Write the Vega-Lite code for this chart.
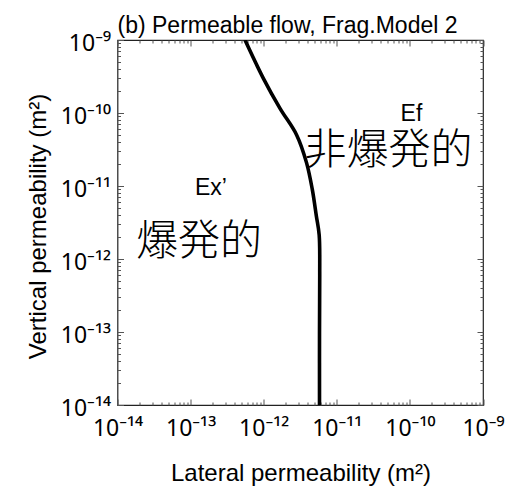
{
  "$schema": "https://vega.github.io/schema/vega-lite/v6.json",
  "autosize": "none",
  "padding": {"left": 117.5, "top": 40, "right": 34, "bottom": 81},
  "width": 365.5,
  "height": 365,
  "config": {
    "font": "Liberation Sans",
    "view": {"stroke": "#222", "strokeWidth": 1.2},
    "axis": {"grid": false, "domain": false}
  },
  "title": {
    "text": "(b) Permeable flow, Frag.Model 2",
    "anchor": "start",
    "frame": "group",
    "fontSize": 23,
    "fontWeight": "normal",
    "color": "#000",
    "baseline": "alphabetic",
    "offset": 8,
    "dy": 32
  },
  "datasets": {
    "curve": [
      {"i": 1, "lat": 5.8e-12, "vert": 1e-14},
      {"i": 2, "lat": 5.8e-12, "vert": 1e-13},
      {"i": 3, "lat": 5.84e-12, "vert": 6.03e-13},
      {"i": 4, "lat": 5.74e-12, "vert": 2.14e-12},
      {"i": 5, "lat": 5.25e-12, "vert": 3.89e-12},
      {"i": 6, "lat": 4.62e-12, "vert": 8.97e-12},
      {"i": 7, "lat": 3.85e-12, "vert": 2.09e-11},
      {"i": 8, "lat": 2.82e-12, "vert": 5.01e-11},
      {"i": 9, "lat": 1.67e-12, "vert": 1.159e-10},
      {"i": 10, "lat": 9.89e-13, "vert": 2.985e-10},
      {"i": 11, "lat": 5.55e-13, "vert": 1e-9}
    ],
    "labels": [
      {"text": "Ex’", "lat": 1.9e-13, "vert": 7.5e-12, "kind": "latin"},
      {"text": "Ef", "lat": 1.05e-10, "vert": 7.8e-11, "kind": "latin"},
      {"text": "爆発的", "lat": 1.3e-13, "vert": 1.71e-12, "kind": "cjk"},
      {"text": "非爆発的", "lat": 5.09e-11, "vert": 3.01e-11, "kind": "cjk"}
    ]
  },
  "layer": [
    {
      "data": {"name": "curve"},
      "mark": {"type": "line", "color": "#000", "strokeWidth": 3.6, "clip": true, "interpolate": "catmull-rom"},
      "encoding": {
        "order": {"field": "i", "type": "quantitative"},
        "x": {
          "field": "lat", "type": "quantitative",
          "scale": {"type": "log", "domain": [1e-14, 1e-9], "nice": false},
          "axis": {
            "orient": "bottom",
            "title": "Lateral permeability (m²)",
            "titleFontSize": 24, "titleFontWeight": "normal", "titleColor": "#000",
            "titleX": 183, "titleY": 75, "titleBaseline": "alphabetic", "titleAnchor": "middle", "titleAlign": "center",
            "values": [1e-14,2e-14,3e-14,4e-14,5e-14,6e-14,7e-14,8e-14,9e-14,1e-13,2e-13,3e-13,4e-13,5e-13,6e-13,7e-13,8e-13,9e-13,1e-12,2e-12,3e-12,4e-12,5e-12,6e-12,7e-12,8e-12,9e-12,1e-11,2e-11,3e-11,4e-11,5e-11,6e-11,7e-11,8e-11,9e-11,1e-10,2e-10,3e-10,4e-10,5e-10,6e-10,7e-10,8e-10,9e-10,1e-9],
            "labelExpr": "abs(log(datum.value)/LN10 - round(log(datum.value)/LN10)) > 0.01 ? '' : (round(log(datum.value)/LN10) == -14 ? '10⁻¹⁴' : round(log(datum.value)/LN10) == -13 ? '10⁻¹³' : round(log(datum.value)/LN10) == -12 ? '10⁻¹²' : round(log(datum.value)/LN10) == -11 ? '10⁻¹¹' : round(log(datum.value)/LN10) == -10 ? '10⁻¹⁰' : '10⁻⁹')",
            "labelFont": "Noto Sans",
            "labelFontSize": 23, "labelColor": "#000", "labelOverlap": false, "labelFlush": false, "labelBound": false,
            "labelPadding": 18,
            "tickColor": "#555", "tickWidth": 1,
            "tickSize": {"condition": {"test": "abs(log(datum.value)/LN10 - round(log(datum.value)/LN10)) > 0.01", "value": -3}, "value": -6}
          }
        },
        "y": {
          "field": "vert", "type": "quantitative",
          "scale": {"type": "log", "domain": [1e-14, 1e-9], "nice": false},
          "axis": {
            "orient": "left",
            "title": "Vertical permeability (m²)",
            "titleFontSize": 24, "titleFontWeight": "normal", "titleColor": "#000",
            "titleAngle": -90, "titleX": -72, "titleY": 186, "titleBaseline": "alphabetic", "titleAlign": "center", "titleAnchor": "middle",
            "values": [1e-14,2e-14,3e-14,4e-14,5e-14,6e-14,7e-14,8e-14,9e-14,1e-13,2e-13,3e-13,4e-13,5e-13,6e-13,7e-13,8e-13,9e-13,1e-12,2e-12,3e-12,4e-12,5e-12,6e-12,7e-12,8e-12,9e-12,1e-11,2e-11,3e-11,4e-11,5e-11,6e-11,7e-11,8e-11,9e-11,1e-10,2e-10,3e-10,4e-10,5e-10,6e-10,7e-10,8e-10,9e-10,1e-9],
            "labelExpr": "abs(log(datum.value)/LN10 - round(log(datum.value)/LN10)) > 0.01 ? '' : (round(log(datum.value)/LN10) == -14 ? '10⁻¹⁴' : round(log(datum.value)/LN10) == -13 ? '10⁻¹³' : round(log(datum.value)/LN10) == -12 ? '10⁻¹²' : round(log(datum.value)/LN10) == -11 ? '10⁻¹¹' : round(log(datum.value)/LN10) == -10 ? '10⁻¹⁰' : '10⁻⁹')",
            "labelFont": "Noto Sans",
            "labelFontSize": 23, "labelColor": "#000", "labelOverlap": false, "labelFlush": false, "labelBound": false,
            "labelPadding": 13, "labelBaseline": "middle", "labelOffset": 3,
            "tickColor": "#555", "tickWidth": 1,
            "tickSize": {"condition": {"test": "abs(log(datum.value)/LN10 - round(log(datum.value)/LN10)) > 0.01", "value": -3}, "value": -6}
          }
        }
      }
    },
    {
      "data": {"name": "curve"},
      "mark": {"type": "line", "opacity": 0},
      "encoding": {
        "x": {
          "field": "lat", "type": "quantitative",
          "scale": {"type": "log", "domain": [1e-14, 1e-9], "nice": false},
          "axis": {
            "orient": "top", "title": null, "labels": false,
            "values": [1e-14,2e-14,3e-14,4e-14,5e-14,6e-14,7e-14,8e-14,9e-14,1e-13,2e-13,3e-13,4e-13,5e-13,6e-13,7e-13,8e-13,9e-13,1e-12,2e-12,3e-12,4e-12,5e-12,6e-12,7e-12,8e-12,9e-12,1e-11,2e-11,3e-11,4e-11,5e-11,6e-11,7e-11,8e-11,9e-11,1e-10,2e-10,3e-10,4e-10,5e-10,6e-10,7e-10,8e-10,9e-10,1e-9],
            "tickColor": "#555", "tickWidth": 1,
            "tickSize": {"condition": {"test": "abs(log(datum.value)/LN10 - round(log(datum.value)/LN10)) > 0.01", "value": -3}, "value": -6}
          }
        },
        "y": {
          "field": "vert", "type": "quantitative",
          "scale": {"type": "log", "domain": [1e-14, 1e-9], "nice": false},
          "axis": {
            "orient": "right", "title": null, "labels": false,
            "values": [1e-14,2e-14,3e-14,4e-14,5e-14,6e-14,7e-14,8e-14,9e-14,1e-13,2e-13,3e-13,4e-13,5e-13,6e-13,7e-13,8e-13,9e-13,1e-12,2e-12,3e-12,4e-12,5e-12,6e-12,7e-12,8e-12,9e-12,1e-11,2e-11,3e-11,4e-11,5e-11,6e-11,7e-11,8e-11,9e-11,1e-10,2e-10,3e-10,4e-10,5e-10,6e-10,7e-10,8e-10,9e-10,1e-9],
            "tickColor": "#555", "tickWidth": 1,
            "tickSize": {"condition": {"test": "abs(log(datum.value)/LN10 - round(log(datum.value)/LN10)) > 0.01", "value": -3}, "value": -6}
          }
        }
      }
    },
    {
      "data": {"name": "labels"},
      "transform": [{"filter": "datum.kind == 'latin'"}],
      "mark": {"type": "text", "fontSize": 23, "font": "Liberation Sans", "color": "#000", "align": "center", "baseline": "alphabetic"},
      "encoding": {
        "x": {"field": "lat", "type": "quantitative", "scale": {"type": "log", "domain": [1e-14, 1e-9], "nice": false}, "axis": null},
        "y": {"field": "vert", "type": "quantitative", "scale": {"type": "log", "domain": [1e-14, 1e-9], "nice": false}, "axis": null},
        "text": {"field": "text"}
      }
    },
    {
      "data": {"name": "labels"},
      "transform": [{"filter": "datum.kind == 'cjk'"}],
      "mark": {"type": "text", "fontSize": 42, "font": "Noto Sans CJK JP", "fontWeight": 300, "color": "#000", "align": "center", "baseline": "middle"},
      "encoding": {
        "x": {"field": "lat", "type": "quantitative", "scale": {"type": "log", "domain": [1e-14, 1e-9], "nice": false}, "axis": null},
        "y": {"field": "vert", "type": "quantitative", "scale": {"type": "log", "domain": [1e-14, 1e-9], "nice": false}, "axis": null},
        "text": {"field": "text"}
      }
    }
  ],
  "resolve": {"axis": {"x": "independent", "y": "independent"}}
}
